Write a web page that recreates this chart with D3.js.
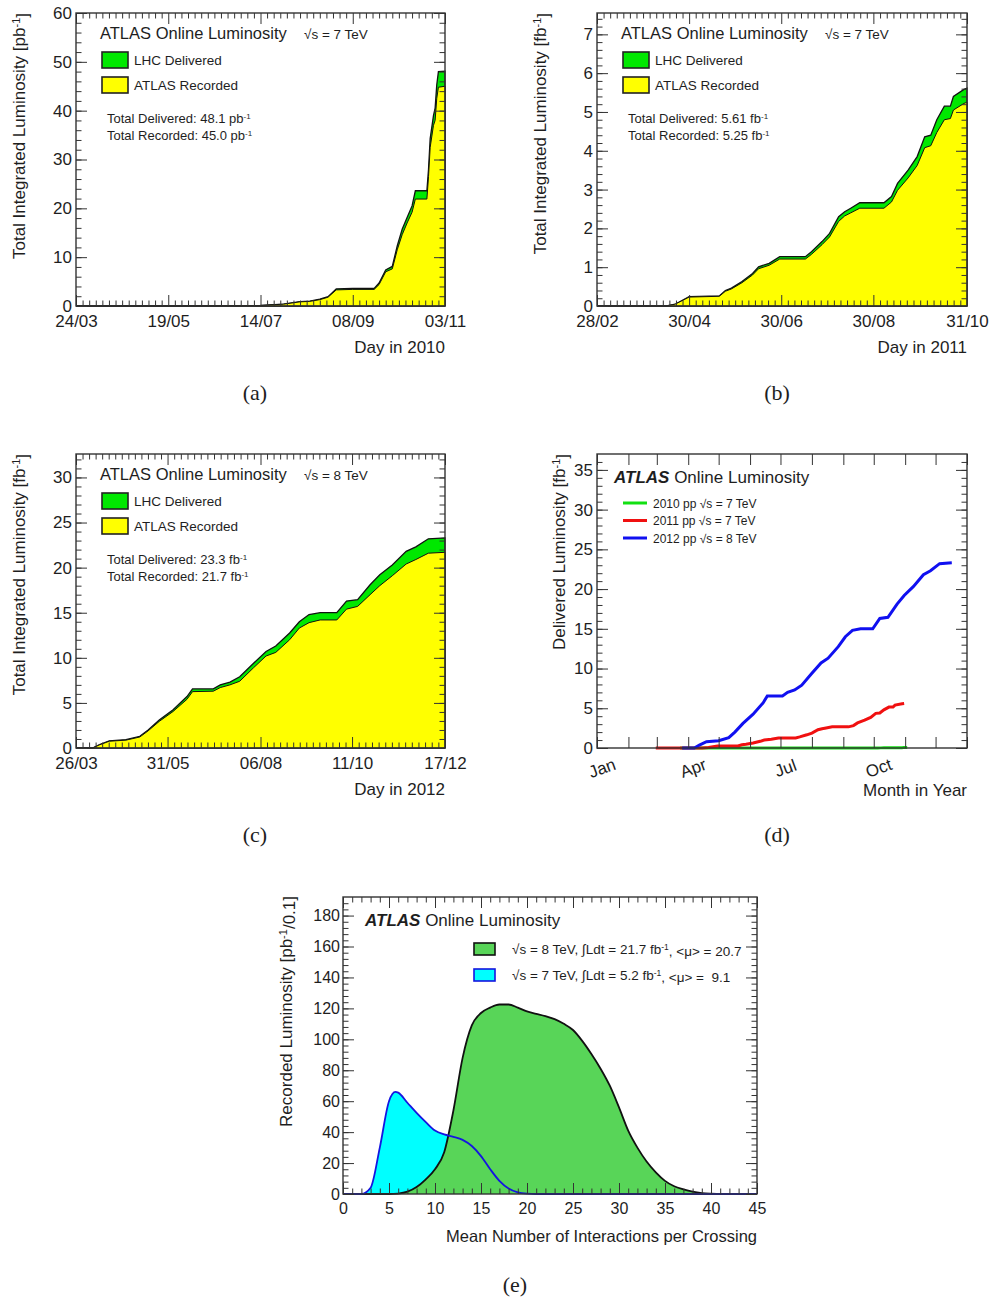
<!DOCTYPE html>
<html>
<head>
<meta charset="utf-8">
<script src="https://d3js.org/d3.v7.min.js"></script>
<style>
body { margin:0; background:#fff; }
text { font-family: "Liberation Sans", Arial, Helvetica, sans-serif; fill:#1e1e1e; }
.cap { font-family: "Liberation Serif", "DejaVu Serif", serif; font-size:22px; }
</style>
</head>
<body>
<svg id="fig" width="990" height="1302"></svg>
<script>
// ---------- data ----------
// (a) 2010, pb^-1
const days2010 = ["24/03","30/05","29/06","14/07","28/07","07/08","13/08","19/08","24/08","29/08",
  "08/09","21/09","24/09","28/09","02/10","05/10","08/10","11/10","14/10","16/10",
  "23/10","24/10","25/10","27/10","28/10","29/10","30/10","03/11"];
const delivered2010 = [0,0.02,0.05,0.1,0.4,0.9,1.0,1.4,1.9,3.5,3.6,3.6,4.7,7.4,8.1,12.3,15.7,18.1,20.5,23.6,
  23.6,28.0,34.3,39.0,40.5,45.3,48.0,48.1];
const recorded2010 = [0,0.02,0.05,0.09,0.38,0.85,0.95,1.3,1.8,3.3,3.4,3.4,4.4,7.0,7.6,11.5,14.6,17.0,19.2,21.9,
  21.9,26.5,32.5,37.0,38.0,42.5,44.8,45.0];
const ticks2010 = ["24/03","19/05","14/07","08/09","03/11"];

// (b) 2011, fb^-1
const days2011 = ["28/02","15/04","21/04","30/04","20/05","24/05","28/05","04/06","11/06","15/06",
  "22/06","29/06","16/07","20/07","27/07","01/08","07/08","11/08","15/08","21/08",
  "06/09","11/09","15/09","22/09","28/09","03/10","07/10","11/10","16/10","20/10","22/10","29/10","31/10"];
const delivered2011 = [0,0,0.05,0.24,0.26,0.40,0.46,0.63,0.84,1.01,1.10,1.27,1.27,1.40,1.66,1.87,2.30,2.43,2.52,2.66,
  2.66,2.82,3.16,3.50,3.85,4.36,4.40,4.80,5.15,5.15,5.40,5.58,5.61];
const recorded2011 = [0,0,0.05,0.23,0.25,0.38,0.44,0.60,0.80,0.96,1.05,1.21,1.21,1.33,1.58,1.78,2.18,2.32,2.40,2.52,
  2.52,2.68,2.98,3.30,3.62,4.08,4.13,4.47,4.80,4.83,5.05,5.22,5.25];
const ticks2011 = ["28/02","30/04","30/06","30/08","31/10"];

// (c) 2012, fb^-1
const days2012 = ["26/03","07/04","12/04","19/04","01/05","11/05","17/05","25/05","04/06","14/06",
  "18/06","03/07","08/07","15/07","22/07","01/08","10/08","17/08","27/08","03/09",
  "10/09","18/09","30/09","07/10","15/10","24/10","31/10","09/11","19/11","26/11","05/12","17/12"];
const delivered2012 = [0,0,0.37,0.8,0.92,1.3,2.0,3.1,4.25,5.7,6.55,6.55,7.0,7.3,7.9,9.4,10.7,11.3,12.75,14.0,
  14.8,15.0,15.0,16.3,16.45,18.1,19.2,20.3,21.8,22.3,23.2,23.3];
const recorded2012 = [0,0,0.35,0.75,0.87,1.22,1.9,2.95,4.05,5.4,6.25,6.3,6.7,7.0,7.4,8.9,10.2,10.6,12.0,13.3,
  13.9,14.2,14.2,15.4,15.7,17.0,18.0,19.1,20.4,20.9,21.6,21.7];
const ticks2012 = ["26/03","31/05","06/08","11/10","17/12"];

// (d) month labels
const monthLabels = ["Jan","Apr","Jul","Oct"];
const monthIndex = [0,3,6,9];

// (e) pile-up distributions, pb^-1 / 0.1
const mu8TeV = [0,5,6,7,8,9,10,11,12,13,14,15,16,17,18,19,20,21,22,23,24,25,26,27,28,29,30,31,32,33,34,35,36,37,38,39,40,41,45];
const lumi8TeV = [0,0,0.3,1.5,4.5,9.5,16,27,54,88,109,117,120.5,122.5,122.5,120.5,118,116.5,115,113,110,106,99,90.5,81,70,56,41,30,21,14,8.5,5,3,1.5,0.6,0.2,0,0];
const mu7TeV = [0,2,3,4,5,5.7,6,7,8,9,10,11,12,13,14,15,16,17,18,19,20,21,45];
const lumi7TeV = [0,0,4,30,60,66,65.5,59,52.5,46.5,41,38.5,37,35,31,24.5,16,8.5,3.5,1,0.2,0,0];

// ---------- helpers ----------
const svg = d3.select("#fig");
const FONT = '"Liberation Sans", Arial, Helvetica, sans-serif';

function subdivide(majors, n) {
  const out = [];
  for (let i = 0; i < majors.length - 1; i++) {
    const a = +majors[i], b = +majors[i + 1];
    for (let k = 1; k < n; k++) out.push(a + (b - a) * k / n);
  }
  return out;
}

function frame(x, y, o) {
  const [x0, x1] = x.range(), [y0, y1] = y.range();
  const big = 11, small = 5.5;
  const add = (axis, tx, ty) => {
    const a = svg.append("g").attr("transform", `translate(${tx},${ty})`).call(axis);
    a.select(".domain").remove();
    a.selectAll("line").attr("stroke", "#333").attr("stroke-width", 1);
    a.selectAll("text").attr("font-size", o.fs || 17).attr("font-family", FONT).attr("fill", "#1e1e1e");
    return a;
  };
  const none = () => "";
  add(d3.axisBottom(x).tickValues(o.xMajor).tickSize(-big).tickPadding(9).tickFormat(o.xFmt || none), 0, y0);
  add(d3.axisTop(x).tickValues(o.xMajor).tickSize(-big).tickFormat(none), 0, y1);
  if (o.xMinor) {
    add(d3.axisBottom(x).tickValues(o.xMinor).tickSize(-small).tickFormat(none), 0, y0);
    add(d3.axisTop(x).tickValues(o.xMinor).tickSize(-small).tickFormat(none), 0, y1);
  }
  add(d3.axisLeft(y).tickValues(o.yMajor).tickSize(-big).tickPadding(o.yPad || 5).tickFormat(d3.format("d")), x0, 0);
  add(d3.axisRight(y).tickValues(o.yMajor).tickSize(-big).tickFormat(none), x1, 0);
  add(d3.axisLeft(y).tickValues(o.yMinor).tickSize(-small).tickFormat(none), x0, 0);
  add(d3.axisRight(y).tickValues(o.yMinor).tickSize(-small).tickFormat(none), x1, 0);
  svg.append("rect").attr("x", x0).attr("y", y1).attr("width", x1 - x0).attr("height", y0 - y1)
    .attr("fill", "none").attr("stroke", "#333").attr("stroke-width", 1.4);
}

// text with superscript pieces: parts = [[str, sup?], ...]
function rich(sel, parts, supSize) {
  let up = false;
  parts.forEach(([s, sup]) => {
    const t = sel.append("tspan").text(s);
    if (sup && !up) { t.attr("dy", "-0.45em").attr("font-size", supSize); up = true; }
    else if (sup) { t.attr("font-size", supSize); }
    else if (up) { t.attr("dy", "0.45em"); up = false; }
  });
  return sel;
}

function yTitle(x, yTop, parts) {
  const t = svg.append("text").attr("transform", `translate(${x},${yTop}) rotate(-90)`)
    .attr("text-anchor", "end").attr("font-size", 17);
  rich(t, parts, 11);
}
function xTitle(xRight, y, str, fs) {
  svg.append("text").attr("x", xRight).attr("y", y).attr("text-anchor", "end")
    .attr("font-size", fs || 17).text(str);
}
function caption(x, y, s) {
  svg.append("text").attr("class", "cap").attr("x", x).attr("y", y).attr("text-anchor", "middle").text(s);
}

// ---------- cumulative panels (a)-(c) ----------
function cumulative(c) {
  const parse = d3.timeParse("%d/%m/%Y");
  const dt = s => parse(s + "/" + c.year);
  const majors = c.ticks.map(dt);
  const x = d3.scaleTime().domain([majors[0], majors[majors.length - 1]]).range([c.x0, c.x1]);
  const y = d3.scaleLinear().domain([0, c.ymax]).range([c.y0, c.y1]);
  const pts = c.days.map((d, i) => ({ t: dt(d), del: c.del[i], rec: c.rec[i] }));

  const area = key => d3.area().x(d => x(d.t)).y0(y(0)).y1(d => y(d[key]));
  svg.append("path").datum(pts).attr("d", area("del")).attr("fill", "#00e800")
    .attr("stroke", "#111").attr("stroke-width", 1.3);
  svg.append("path").datum(pts).attr("d", area("rec")).attr("fill", "#ffff00")
    .attr("stroke", "#111").attr("stroke-width", 1);

  frame(x, y, {
    xMajor: majors, xMinor: subdivide(majors, 14).map(v => new Date(v)), xFmt: d3.timeFormat("%d/%m"),
    yMajor: d3.range(0, c.ymax + 1e-9, c.yStep), yMinor: d3.range(0, c.ymax, c.yStep / 5), yPad: 4
  });

  // legend
  const lx = c.x0 + 24, ly = c.y1;
  svg.append("text").attr("x", lx).attr("y", ly + 26).attr("font-size", 16.5).text("ATLAS Online Luminosity");
  svg.append("text").attr("x", c.x0 + 228).attr("y", ly + 26).attr("font-size", 13.5).text(c.energy);
  [["LHC Delivered", "#00e800", 39], ["ATLAS Recorded", "#ffff00", 64]].forEach(([s, col, dy]) => {
    svg.append("rect").attr("x", lx + 2).attr("y", ly + dy).attr("width", 26).attr("height", 16)
      .attr("fill", col).attr("stroke", "#222").attr("stroke-width", 1.6);
    svg.append("text").attr("x", lx + 34).attr("y", ly + dy + 13).attr("font-size", 13.5).text(s);
  });
  rich(svg.append("text").attr("x", lx + 7).attr("y", ly + 110).attr("font-size", 13),
    [["Total Delivered: " + c.totDel + " " + c.unit, false], ["-1", true]], 8);
  rich(svg.append("text").attr("x", lx + 7).attr("y", ly + 127).attr("font-size", 13),
    [["Total Recorded: " + c.totRec + " " + c.unit, false], ["-1", true]], 8);

  yTitle(c.x0 - 51, c.y1, [["Total Integrated Luminosity [" + c.unit, false], ["-1", true], ["]", false]]);
  xTitle(c.x1, c.y0 + 47, "Day in " + c.year);
}

cumulative({ year: 2010, days: days2010, del: delivered2010, rec: recorded2010, ticks: ticks2010,
  x0: 76, x1: 445, y0: 306, y1: 13, ymax: 60, yStep: 10, unit: "pb", totDel: "48.1", totRec: "45.0",
  energy: "√s = 7 TeV" });
cumulative({ year: 2011, days: days2011, del: delivered2011, rec: recorded2011, ticks: ticks2011,
  x0: 597, x1: 967, y0: 306, y1: 13, ymax: 7.55, yStep: 1, unit: "fb", totDel: "5.61", totRec: "5.25",
  energy: "√s = 7 TeV" });
cumulative({ year: 2012, days: days2012, del: delivered2012, rec: recorded2012, ticks: ticks2012,
  x0: 76, x1: 445, y0: 748, y1: 454, ymax: 32.6, yStep: 5, unit: "fb", totDel: "23.3", totRec: "21.7",
  energy: "√s = 8 TeV" });

// ---------- (d) delivered luminosity per year ----------
(function () {
  const parse = d3.timeParse("%d/%m/%Y");
  const x = d3.scaleTime().domain([new Date(2001, 0, 1), new Date(2002, 0, 1)]).range([597, 967]);
  const y = d3.scaleLinear().domain([0, 37]).range([748, 454]);
  const onYear = (days, yr, vals, scale) => days.map((d, i) => {
    const t = parse(d + "/" + yr);
    return { t: new Date(2001, t.getMonth(), t.getDate()), v: vals[i] * scale };
  });
  const series = [
    { pts: onYear(days2010, 2010, delivered2010, 0.001), col: "#12e012", name: "2010 pp √s = 7 TeV" },
    { pts: onYear(days2011, 2011, delivered2011, 1), col: "#f01010", name: "2011 pp √s = 7 TeV" },
    { pts: onYear(days2012, 2012, delivered2012, 1), col: "#1010f0", name: "2012 pp √s = 8 TeV" }
  ];
  const line = d3.line().x(d => x(d.t)).y(d => y(d.v));
  series.forEach(s => svg.append("path").datum(s.pts).attr("d", line).attr("fill", "none")
    .attr("stroke", s.col).attr("stroke-width", 3));

  const months = d3.timeMonth.range(new Date(2001, 0, 1), new Date(2002, 0, 2));
  frame(x, y, { xMajor: months, yMajor: d3.range(0, 36, 5), yMinor: d3.range(0, 37, 1), yPad: 4 });
  monthLabels.forEach((m, i) => {
    svg.append("text").attr("transform", `translate(${x(new Date(2001, monthIndex[i], 1)) + 5},${768}) rotate(-20)`)
      .attr("text-anchor", "middle").attr("dy", "0.35em").attr("font-size", 17).text(m);
  });

  const t = svg.append("text").attr("x", 614).attr("y", 483).attr("font-size", 17);
  t.append("tspan").attr("font-weight", "bold").attr("font-style", "italic").text("ATLAS");
  t.append("tspan").text(" Online Luminosity");
  series.forEach((s, i) => {
    const ly = 503 + i * 17.5;
    svg.append("line").attr("x1", 623).attr("x2", 647).attr("y1", ly).attr("y2", ly)
      .attr("stroke", s.col).attr("stroke-width", 3);
    svg.append("text").attr("x", 653).attr("y", ly + 4.5).attr("font-size", 12).text(s.name);
  });

  yTitle(565, 454, [["Delivered Luminosity [fb", false], ["-1", true], ["]", false]]);
  xTitle(967, 796, "Month in Year");
})();

// ---------- (e) pile-up ----------
(function () {
  const x = d3.scaleLinear().domain([0, 45]).range([343, 757]);
  const y = d3.scaleLinear().domain([0, 192]).range([1194, 897]);
  const p7 = mu7TeV.map((m, i) => ({ m, v: lumi7TeV[i] }));
  const p8 = mu8TeV.map((m, i) => ({ m, v: lumi8TeV[i] }));
  const area = d3.area().curve(d3.curveMonotoneX).x(d => x(d.m)).y0(y(0)).y1(d => y(d.v));
  const line = d3.line().curve(d3.curveMonotoneX).x(d => x(d.m)).y(d => y(d.v));

  svg.append("path").datum(p7).attr("d", area).attr("fill", "#00ffff");
  svg.append("path").datum(p8).attr("d", area).attr("fill", "#58d558");
  svg.append("path").datum(p8).attr("d", line).attr("fill", "none").attr("stroke", "#111").attr("stroke-width", 1.8);
  svg.append("path").datum(p7).attr("d", line).attr("fill", "none").attr("stroke", "#1515e0").attr("stroke-width", 1.8);

  frame(x, y, { xMajor: d3.range(0, 46, 5), xMinor: d3.range(0, 46, 1), xFmt: d3.format("d"),
    yMajor: d3.range(0, 181, 20), yMinor: d3.range(0, 192, 4), yPad: 3, fs: 16 });

  const t = svg.append("text").attr("x", 365).attr("y", 926).attr("font-size", 17);
  t.append("tspan").attr("font-weight", "bold").attr("font-style", "italic").text("ATLAS");
  t.append("tspan").text(" Online Luminosity");
  const leg = [
    { fill: "#58d558", stroke: "#111", y: 943, parts: [["√s = 8 TeV, ∫Ldt = 21.7 fb", false], ["-1", true], [", <μ> = 20.7", false]] },
    { fill: "#00ffff", stroke: "#1515e0", y: 969, parts: [["√s = 7 TeV, ∫Ldt = 5.2 fb", false], ["-1", true], [", <μ> =  9.1", false]] }
  ];
  leg.forEach(l => {
    svg.append("rect").attr("x", 474).attr("y", l.y).attr("width", 21).attr("height", 12)
      .attr("fill", l.fill).attr("stroke", l.stroke).attr("stroke-width", 1.6);
    rich(svg.append("text").attr("x", 512).attr("y", l.y + 10.5).attr("font-size", 13.5).attr("xml:space", "preserve"), l.parts, 8.5);
  });

  yTitle(292, 896, [["Recorded Luminosity [pb", false], ["-1", true], ["/0.1]", false]]);
  xTitle(757, 1242, "Mean Number of Interactions per Crossing", 16.5);
})();

// ---------- captions ----------
caption(255, 400, "(a)");
caption(777, 400, "(b)");
caption(255, 842, "(c)");
caption(777, 842, "(d)");
caption(515, 1292, "(e)");
</script>
</body>
</html>
